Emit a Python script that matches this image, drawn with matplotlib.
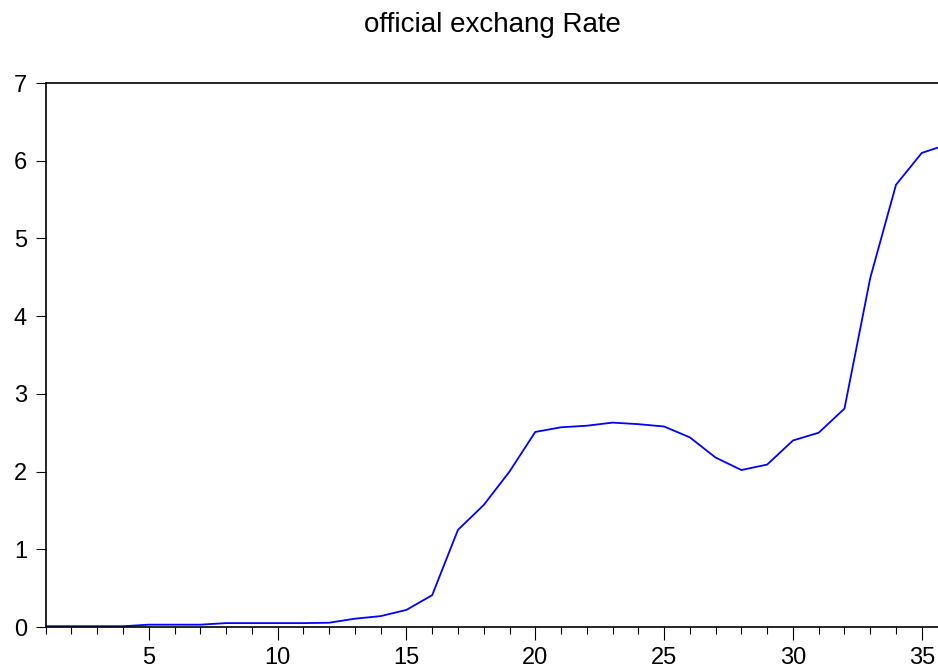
import matplotlib
matplotlib.use("Agg")
import matplotlib.pyplot as plt
from matplotlib.ticker import MultipleLocator

plt.rcParams['font.family'] = ['Liberation Sans', 'DejaVu Sans']

periods = list(range(1, 37))
rate = [0.01, 0.01, 0.01, 0.01, 0.03, 0.03, 0.03, 0.05, 0.05, 0.05,
        0.05, 0.055, 0.107, 0.14, 0.22, 0.41, 1.25, 1.57, 2.00, 2.51,
        2.57, 2.59, 2.63, 2.61, 2.58, 2.44, 2.18, 2.02, 2.09, 2.40,
        2.50, 2.81, 4.49, 5.69, 6.10, 6.21]
title = "official exchang Rate"

fig = plt.figure(figsize=(9.38, 6.68), dpi=100)
ax = fig.add_axes([45.7/938, 1 - 627/668, 1 - 45.7/938, (627 - 83)/668])
ax.plot(periods, rate, color='#0000ff', lw=1.3, clip_on=True)
ax.set_xlim(1, 35.63)
ax.set_ylim(0, 7)
ax.spines['right'].set_visible(False)
for s in ['left', 'top', 'bottom']:
    ax.spines[s].set_linewidth(1.2)
ax.xaxis.set_major_locator(MultipleLocator(5))
ax.xaxis.set_minor_locator(MultipleLocator(1))
ax.yaxis.set_major_locator(MultipleLocator(1))
ax.tick_params(axis='x', which='major', length=9.5, width=0.8, pad=5, labelsize=17)
ax.tick_params(axis='x', which='minor', length=5, width=0.8)
ax.tick_params(axis='y', which='major', length=7.5, width=0.8, pad=6, labelsize=17)
fig.text(492/938, 1 - 32/668, title, fontsize=20, ha='center', va='baseline')
fig.savefig("out.png", dpi=100)
